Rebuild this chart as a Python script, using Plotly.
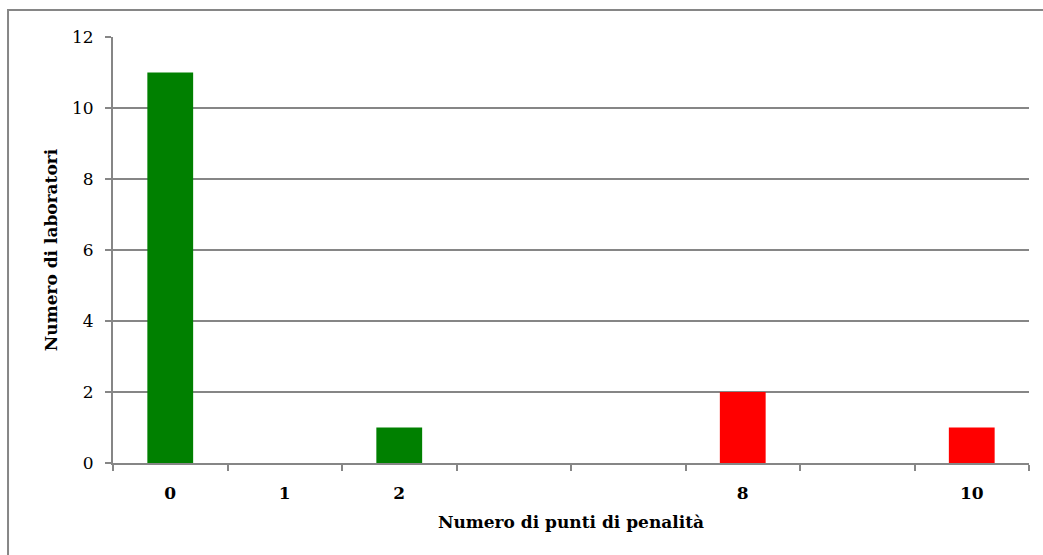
import plotly.graph_objects as go

# Penalty-point categories (blank slots are unlabeled positions on the axis)
categories = ["0", "1", "2", "", "", "8", "", "10"]
lab_counts = [11, 0, 1, 0, 0, 2, 0, 1]
bar_colors = ["#008000", "#008000", "#008000", "#008000", "#008000", "#FF0000", "#FF0000", "#FF0000"]

positions = list(range(len(categories)))
label_pos = [p for p, c in zip(positions, categories) if c]
label_txt = [c for c in categories if c]
boundaries = [p - 0.5 for p in positions] + [positions[-1] + 0.5]

grey = "#868686"
serif = "DejaVu Serif"

fig = go.Figure(
    go.Bar(
        x=positions,
        y=lab_counts,
        marker=dict(color=bar_colors, line=dict(width=0)),
        width=0.4,
    )
)

fig.update_layout(
    width=1043,
    height=555,
    margin=dict(l=113, r=14, t=37, b=92),
    paper_bgcolor="white",
    plot_bgcolor="white",
    showlegend=False,
    font=dict(family=serif, size=17, color="black"),
    xaxis=dict(
        range=[-0.5, len(categories) - 0.5],
        tickmode="array",
        tickvals=label_pos,
        ticktext=label_txt,
        ticks="",
        ticklabelstandoff=14,
        tickfont=dict(family=serif, size=17, color="black", weight="bold"),
        showgrid=False,
        zeroline=False,
        showline=True,
        linecolor=grey,
        linewidth=2,
        minor=dict(
            tickmode="array",
            tickvals=boundaries,
            ticks="outside",
            ticklen=6,
            tickwidth=2,
            tickcolor=grey,
            showgrid=False,
        ),
        title=dict(
            text="<b>Numero di punti di penalità</b>",
            font=dict(family=serif, size=17, color="black"),
            standoff=14,
        ),
    ),
    yaxis=dict(
        range=[0, 12],
        dtick=2,
        ticks="outside",
        ticklen=6,
        tickwidth=2,
        tickcolor=grey,
        ticklabelstandoff=8,
        tickfont=dict(family=serif, size=17, color="black"),
        showgrid=True,
        gridcolor=grey,
        gridwidth=2,
        zeroline=False,
        showline=True,
        linecolor=grey,
        linewidth=2,
        title=dict(
            text="<b>Numero di laboratori</b>",
            font=dict(family=serif, size=17, color="black"),
            standoff=10,
        ),
    ),
    shapes=[
        dict(
            type="rect",
            xref="paper",
            yref="paper",
            x0=-0.1146,
            x1=1.02,
            y0=-0.23,
            y1=1.0634,
            line=dict(color=grey, width=2),
            fillcolor="rgba(0,0,0,0)",
            layer="below",
        )
    ],
)

fig.write_html("out.html")
